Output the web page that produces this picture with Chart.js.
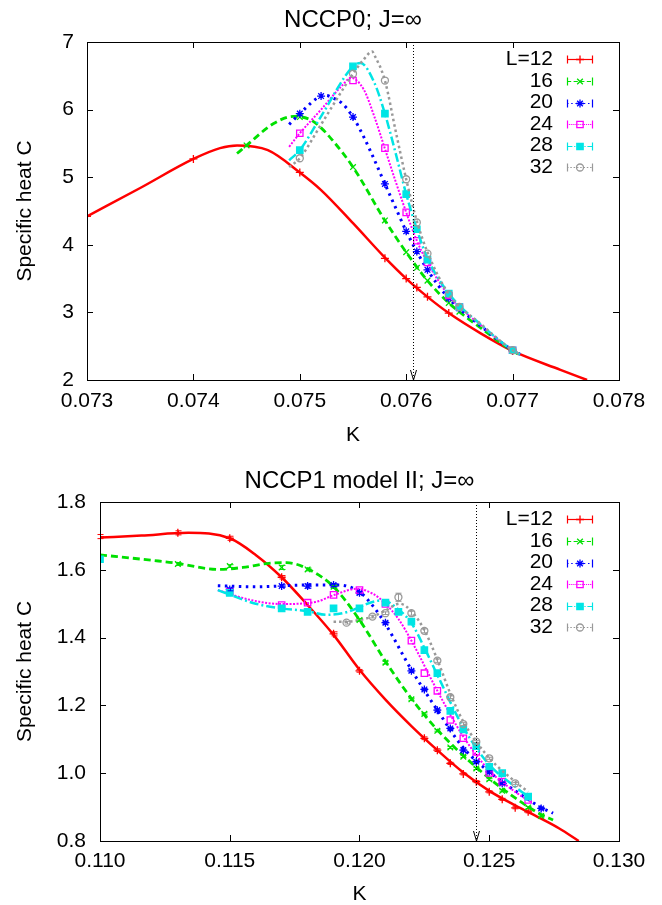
<!DOCTYPE html>
<html>
<head>
<meta charset="utf-8">
<script src="https://cdn.jsdelivr.net/npm/chart.js@4.4.1/dist/chart.umd.min.js"></script>
<style>
  html, body { margin: 0; padding: 0; background: #fff; }
  canvas { display: block; }
</style>
</head>
<body>
<canvas id="c0" width="662" height="452"></canvas>
<canvas id="c1" width="662" height="453"></canvas>
<script>
// legend labels
var sizes = ['L=12', '16', '20', '24', '28', '32'];

// ---- NCCP0 panel: measured points [K, C]
var p0_12 = [[0.073,4.42],[0.074,5.27],[0.075,5.07],[0.0758,3.80],[0.076,3.50],[0.0761,3.37],[0.0762,3.23],[0.0764,2.99],[0.077,2.43]];
var p0_16 = [[0.0745,5.47],[0.075,5.89],[0.0755,5.15],[0.0758,4.36],[0.076,3.89],[0.0761,3.66],[0.0762,3.47],[0.0764,3.14],[0.0765,3.01],[0.077,2.43]];
var p0_20 = [[0.075,5.94],[0.0752,6.20],[0.0755,5.89],[0.0758,4.90],[0.076,4.20],[0.0761,3.90],[0.0762,3.63],[0.0764,3.21],[0.0765,3.06],[0.077,2.44]];
var p0_24 = [[0.075,5.65],[0.0755,6.43],[0.0758,5.43],[0.076,4.48],[0.0761,4.06],[0.0762,3.74],[0.0764,3.25],[0.0765,3.08],[0.077,2.44]];
var p0_28 = [[0.075,5.40],[0.0755,6.64],[0.0758,5.94],[0.076,4.75],[0.0761,4.23],[0.0762,3.78],[0.0764,3.28],[0.0765,3.08],[0.077,2.44]];
var p0_32 = [[0.075,5.28],[0.0755,6.53],[0.0758,6.43],[0.076,4.97],[0.0761,4.33],[0.0762,3.87],[0.0764,3.27],[0.0765,3.08],[0.077,2.44]];

// ---- NCCP0 panel: reweighted curves [K, C]
var f0_12 = [[0.073,4.42],[0.0735,4.84],[0.074,5.27],[0.07425,5.43],[0.07441,5.47],[0.0747,5.40],[0.075,5.07],[0.0752,4.81],[0.0755,4.32],[0.0758,3.81],[0.076,3.50],[0.0762,3.23],[0.0764,2.99],[0.0767,2.69],[0.077,2.43],[0.07745,2.15],[0.0777,2.0]];
var f0_16 = [[0.07441,5.35],[0.0745,5.47],[0.07475,5.79],[0.07494,5.90],[0.0751,5.85],[0.0752,5.73],[0.0753,5.56],[0.0755,5.15],[0.0758,4.36],[0.076,3.89],[0.0762,3.47],[0.0764,3.14],[0.0767,2.77],[0.077,2.43],[0.07707,2.37]];
var f0_20 = [[0.0749,5.78],[0.075,5.94],[0.0752,6.20],[0.07525,6.21],[0.0753,6.18],[0.0754,6.09],[0.0755,5.89],[0.0756,5.60],[0.0757,5.26],[0.0758,4.90],[0.0759,4.55],[0.076,4.20],[0.0762,3.63],[0.0764,3.21],[0.0767,2.80],[0.077,2.44],[0.07707,2.38]];
var f0_24 = [[0.0749,5.45],[0.075,5.65],[0.0752,6.00],[0.0754,6.36],[0.07548,6.47],[0.0756,6.30],[0.0757,5.90],[0.0758,5.42],[0.0759,4.94],[0.076,4.48],[0.0761,4.06],[0.0762,3.74],[0.0764,3.25],[0.0767,2.81],[0.077,2.44],[0.07707,2.38]];
var f0_28 = [[0.0749,5.25],[0.075,5.40],[0.0752,5.90],[0.0755,6.64],[0.07557,6.69],[0.0757,6.40],[0.0758,5.94],[0.0759,5.36],[0.076,4.75],[0.0761,4.23],[0.0762,3.80],[0.0764,3.28],[0.0767,2.82],[0.077,2.44],[0.07707,2.38]];
var f0_32 = [[0.0749,5.15],[0.075,5.28],[0.0752,5.78],[0.0755,6.53],[0.0756,6.74],[0.07568,6.86],[0.0757,6.81],[0.0758,6.43],[0.0759,5.69],[0.076,4.97],[0.0761,4.35],[0.0762,3.89],[0.0764,3.27],[0.0767,2.83],[0.077,2.44],[0.07707,2.38]];

// ---- NCCP1 model II panel: measured points [K, C]
var p1_12 = [[0.110,1.698],[0.113,1.709],[0.115,1.693],[0.117,1.578],[0.119,1.411],[0.120,1.302],[0.1225,1.103],[0.123,1.068],[0.1235,1.029],[0.124,0.998],[0.1245,0.975],[0.125,0.945],[0.1255,0.923],[0.126,0.898],[0.1265,0.886]];
var p1_16 = [[0.113,1.617],[0.115,1.611],[0.117,1.607],[0.118,1.601],[0.119,1.550],[0.120,1.452],[0.121,1.326],[0.122,1.218],[0.1225,1.175],[0.123,1.125],[0.1235,1.076],[0.124,1.049],[0.1245,1.014],[0.125,0.982],[0.1255,0.948],[0.1265,0.899],[0.127,0.874]];
var p1_20 = [[0.115,1.542],[0.117,1.552],[0.118,1.552],[0.119,1.555],[0.120,1.532],[0.121,1.444],[0.122,1.302],[0.1225,1.247],[0.123,1.186],[0.1235,1.132],[0.124,1.068],[0.1245,1.034],[0.125,1.004],[0.1255,0.970],[0.127,0.896]];
var p1_24 = [[0.115,1.535],[0.117,1.496],[0.118,1.503],[0.119,1.526],[0.120,1.540],[0.121,1.499],[0.122,1.391],[0.1225,1.295],[0.123,1.243],[0.1235,1.157],[0.124,1.103],[0.1245,1.063],[0.125,1.001],[0.1255,0.975],[0.1265,0.921]];
var p1_28 = [[0.110,1.631],[0.115,1.532],[0.117,1.486],[0.118,1.476],[0.119,1.486],[0.120,1.486],[0.121,1.503],[0.1215,1.476],[0.122,1.447],[0.1225,1.363],[0.123,1.295],[0.1235,1.184],[0.124,1.129],[0.1245,1.080],[0.125,1.019],[0.1255,1.000],[0.1265,0.931]];
var p1_32 = [[0.1195,1.444],[0.1205,1.462],[0.121,1.472],[0.1215,1.519],[0.122,1.472],[0.1225,1.420],[0.123,1.332],[0.1235,1.224],[0.124,1.145],[0.1245,1.093],[0.125,1.044],[0.126,0.970]];

// error bars (C units) for the NCCP1 panel
var e1_12 = [0.006,0.006,0.006,0.005,0.006,0.004,0.004,0.004,0.003,0.003,0.003,0.003,0.003,0.003,0.003];
var e1_16 = [0.004,0.004,0.006,0.004,0.004,0.004,0.004,0.003,0.003,0.003,0.003,0.003,0.003,0.003,0.003,0.003,0.003];
var e1_20 = [0.004,0.004,0.006,0.004,0.004,0.004,0.004,0.003,0.003,0.003,0.003,0.003,0.003,0.003,0.003];
var e1_32 = [0.004,0.004,0.004,0.012,0.006,0.006,0.005,0.004,0.004,0.003,0.003,0.003];

// ---- NCCP1 model II panel: reweighted curves [K, C]
var f1_12 = [[0.110,1.695],[0.1116,1.701],[0.1134,1.709],[0.115,1.693],[0.116,1.644],[0.117,1.578],[0.118,1.496],[0.119,1.408],[0.120,1.305],[0.121,1.217],[0.122,1.139],[0.123,1.068],[0.124,1.002],[0.125,0.948],[0.126,0.905],[0.127,0.866],[0.1277,0.837],[0.12845,0.80]];
var f1_16 = [[0.110,1.644],[0.112,1.628],[0.113,1.619],[0.114,1.605],[0.1146,1.601],[0.1155,1.607],[0.1165,1.619],[0.1172,1.621],[0.118,1.603],[0.119,1.550],[0.120,1.452],[0.121,1.330],[0.122,1.220],[0.123,1.128],[0.124,1.052],[0.125,0.985],[0.126,0.927],[0.127,0.878],[0.12746,0.862]];
var f1_20 = [[0.11454,1.553],[0.116,1.550],[0.118,1.555],[0.1192,1.555],[0.120,1.535],[0.1205,1.495],[0.121,1.440],[0.122,1.305],[0.123,1.186],[0.124,1.075],[0.125,1.004],[0.126,0.948],[0.127,0.899],[0.12746,0.882]];
var f1_24 = [[0.11454,1.540],[0.1158,1.511],[0.117,1.499],[0.1183,1.505],[0.119,1.525],[0.1199,1.544],[0.1205,1.530],[0.121,1.500],[0.1215,1.455],[0.122,1.391],[0.123,1.243],[0.124,1.108],[0.125,1.008],[0.126,0.945],[0.1266,0.915]];
var f1_28 = [[0.11454,1.540],[0.116,1.500],[0.117,1.486],[0.118,1.478],[0.11875,1.467],[0.1195,1.475],[0.1205,1.505],[0.1209,1.510],[0.1215,1.483],[0.122,1.443],[0.1225,1.370],[0.123,1.290],[0.124,1.135],[0.125,1.025],[0.126,0.960],[0.1266,0.925]];
var f1_32 = [[0.119,1.447],[0.1195,1.447],[0.120,1.452],[0.1205,1.462],[0.121,1.480],[0.12155,1.500],[0.122,1.478],[0.1225,1.422],[0.123,1.335],[0.1235,1.235],[0.124,1.152],[0.125,1.045],[0.126,0.975],[0.1265,0.945]];

// marked critical couplings (arrows)
var kc0 = 0.07606;
var kc1 = 0.12449;

// styles
var colors = ['#ff0000', '#00e000', '#0000ff', '#ff00ff', '#00e5e5', '#999999'];
var dashes = [[], [7, 4], [2.5, 4.5], [2, 1.5], [9, 3, 2, 3], [2.5, 3]];
var widths = [2.5, 2.8, 3, 2, 2.5, 2.5];
var marks  = ['cross', 'crossRot', 'star', 'rect', 'rect', 'circle'];
var radii  = [4, 4, 4, 4.5, 4.5, 3.5];
var fills  = ['rgba(0,0,0,0)', 'rgba(0,0,0,0)', 'rgba(0,0,0,0)', 'rgba(0,0,0,0)', '#00e5e5', 'rgba(0,0,0,0)'];

var FONT = "'Liberation Sans', Arial, Helvetica, sans-serif";
Chart.defaults.font.family = FONT;
Chart.defaults.color = '#000';

function xy(arr) {
  return arr.map(function (p) { return { x: p[0], y: p[1] }; });
}

function buildSets(pts, fits, errs) {
  var sets = [];
  for (var i = 0; i < pts.length; i++) {
    sets.push({
      data: xy(fits[i]), showLine: true, pointRadius: 0, pointHoverRadius: 0,
      borderColor: colors[i], borderWidth: widths[i], borderDash: dashes[i],
      cubicInterpolationMode: 'monotone', fill: false, order: 40 - 2 * i
    });
    sets.push({
      data: xy(pts[i]), showLine: false, pointStyle: marks[i], pointRadius: radii[i],
      borderColor: colors[i], backgroundColor: fills[i], pointBorderWidth: 1.3,
      order: 39 - 2 * i, err: errs ? errs[i] : null
    });
  }
  return sets;
}

// box, inward ticks on all sides
var framePlugin = {
  id: 'frame',
  afterDatasetsDraw: function (chart) {
    var ctx = chart.ctx, a = chart.chartArea, xs = chart.scales.x, ys = chart.scales.y;
    ctx.save();
    ctx.strokeStyle = '#000';
    ctx.lineWidth = 1;
    ctx.setLineDash([]);
    ctx.strokeRect(a.left + 0.5, a.top + 0.5, a.right - a.left, a.bottom - a.top);
    ctx.beginPath();
    xs.ticks.forEach(function (t) {
      var px = Math.round(xs.getPixelForValue(t.value)) + 0.5;
      ctx.moveTo(px, a.bottom); ctx.lineTo(px, a.bottom - 6);
      ctx.moveTo(px, a.top); ctx.lineTo(px, a.top + 6);
    });
    ys.ticks.forEach(function (t) {
      var py = Math.round(ys.getPixelForValue(t.value)) + 0.5;
      ctx.moveTo(a.left, py); ctx.lineTo(a.left + 6, py);
      ctx.moveTo(a.right, py); ctx.lineTo(a.right - 6, py);
    });
    ctx.stroke();
    ctx.restore();
  }
};

// vertical errorbars
var errPlugin = {
  id: 'errbars',
  afterDatasetsDraw: function (chart) {
    var ctx = chart.ctx, ys = chart.scales.y;
    ctx.save();
    ctx.lineWidth = 1;
    ctx.setLineDash([]);
    chart.data.datasets.forEach(function (ds, k) {
      if (!ds.err) return;
      var meta = chart.getDatasetMeta(k);
      ctx.strokeStyle = ds.borderColor;
      ctx.beginPath();
      ds.data.forEach(function (d, j) {
        var e = ds.err[j];
        if (!e) return;
        var x = Math.round(meta.data[j].x) + 0.5;
        var y1 = ys.getPixelForValue(d.y + e), y2 = ys.getPixelForValue(d.y - e);
        ctx.moveTo(x, y1); ctx.lineTo(x, y2);
        ctx.moveTo(x - 3, y1); ctx.lineTo(x + 3, y1);
        ctx.moveTo(x - 3, y2); ctx.lineTo(x + 3, y2);
      });
      ctx.stroke();
    });
    ctx.restore();
  }
};

function drawMark(ctx, i, x, y) {
  ctx.setLineDash([]);
  ctx.lineWidth = 1.3;
  ctx.strokeStyle = colors[i];
  ctx.fillStyle = fills[i];
  Chart.helpers.drawPoint(ctx, { pointStyle: marks[i], radius: radii[i], rotation: 0, borderWidth: 1.3 }, x, y);
}

function makeDeco(title, titleY, kc) {
  return {
    id: 'deco',
    afterDraw: function (chart) {
      var ctx = chart.ctx, a = chart.chartArea, xs = chart.scales.x;
      ctx.save();
      // title
      ctx.fillStyle = '#000';
      ctx.font = '24px ' + FONT;
      ctx.textAlign = 'center';
      ctx.textBaseline = 'middle';
      ctx.fillText(title, (a.left + a.right) / 2, titleY);

      // dotted marker line with arrow head
      var x = Math.round(xs.getPixelForValue(kc)) + 0.5;
      ctx.strokeStyle = '#000';
      ctx.lineWidth = 1;
      ctx.setLineDash([1, 2]);
      ctx.beginPath();
      ctx.moveTo(x, a.top); ctx.lineTo(x, a.bottom);
      ctx.stroke();
      ctx.setLineDash([]);
      ctx.beginPath();
      ctx.moveTo(x - 3, a.bottom - 10); ctx.lineTo(x, a.bottom); ctx.lineTo(x + 3, a.bottom - 10);
      ctx.stroke();

      // legend
      ctx.font = '21px ' + FONT;
      ctx.textAlign = 'right';
      for (var i = 0; i < sizes.length; i++) {
        var ry = a.top + 17.3 + i * 21.6;
        ctx.fillStyle = '#000';
        ctx.fillText(sizes[i], a.right - 66, ry);
        var x1 = a.right - 52, x2 = a.right - 26, yy = Math.round(ry) + 0.5;
        ctx.strokeStyle = colors[i];
        ctx.lineWidth = 1.2;
        ctx.setLineDash(dashes[i].length ? dashes[i].map(function (v) { return v * 0.6; }) : []);
        ctx.beginPath();
        ctx.moveTo(x1, yy); ctx.lineTo(x2, yy);
        ctx.stroke();
        ctx.setLineDash([]);
        ctx.beginPath();
        ctx.moveTo(x1 + 0.5, yy - 4); ctx.lineTo(x1 + 0.5, yy + 4);
        ctx.moveTo(x2 - 0.5, yy - 4); ctx.lineTo(x2 - 0.5, yy + 4);
        ctx.stroke();
        drawMark(ctx, i, (x1 + x2) / 2, yy);
      }
      ctx.restore();
    }
  };
}

function makeChart(id, cfg) {
  return new Chart(document.getElementById(id), {
    type: 'scatter',
    data: { datasets: buildSets(cfg.pts, cfg.fits, cfg.errs) },
    options: {
      responsive: false,
      animation: false,
      events: [],
      layout: { padding: { top: cfg.padTop, right: 43, left: 0, bottom: 0 } },
      plugins: { legend: { display: false }, tooltip: { enabled: false }, title: { display: false } },
      scales: {
        x: {
          type: 'linear', min: cfg.xmin, max: cfg.xmax,
          grid: { display: false, drawTicks: false }, border: { display: false },
          ticks: { stepSize: cfg.xstep, maxRotation: 0, autoSkip: false, padding: cfg.xpad,
                   font: { size: 21 }, callback: function (v) { return v.toFixed(3); } },
          title: { display: true, text: 'K', font: { size: 21, lineHeight: 1 }, padding: { top: 0, bottom: cfg.kpad } },
          afterFit: function (s) { s.height = cfg.xh; }
        },
        y: {
          type: 'linear', min: cfg.ymin, max: cfg.ymax,
          grid: { display: false, drawTicks: false }, border: { display: false },
          ticks: { stepSize: cfg.ystep, padding: cfg.ypad, font: { size: 21 },
                   callback: function (v) { return v.toFixed(cfg.ydec); } },
          title: { display: true, text: 'Specific heat C', font: { size: 21, lineHeight: 1 }, padding: { top: 15, bottom: 0 } },
          afterFit: function (s) { s.width = cfg.yw; }
        }
      }
    },
    plugins: [errPlugin, framePlugin, makeDeco(cfg.title, cfg.titleY, cfg.kc)]
  });
}

makeChart('c0', {
  pts: [p0_12, p0_16, p0_20, p0_24, p0_28, p0_32],
  fits: [f0_12, f0_16, f0_20, f0_24, f0_28, f0_32],
  errs: null,
  padTop: 42, xmin: 0.073, xmax: 0.078, xstep: 0.001, xpad: 9, xh: 72, kpad: 6,
  ymin: 2, ymax: 7, ystep: 1, ydec: 0, ypad: 13, yw: 87,
  title: 'NCCP0; J=\u221e', titleY: 20, kc: kc0
});

makeChart('c1', {
  pts: [p1_12, p1_16, p1_20, p1_24, p1_28, p1_32],
  fits: [f1_12, f1_16, f1_20, f1_24, f1_28, f1_32],
  errs: [e1_12, e1_16, e1_20, null, null, e1_32],
  padTop: 50, xmin: 0.110, xmax: 0.130, xstep: 0.005, xpad: 8, xh: 64, kpad: 0,
  ymin: 0.8, ymax: 1.8, ystep: 0.2, ydec: 1, ypad: 14, yw: 100,
  title: 'NCCP1 model II; J=\u221e', titleY: 29, kc: kc1
});
</script>
</body>
</html>
